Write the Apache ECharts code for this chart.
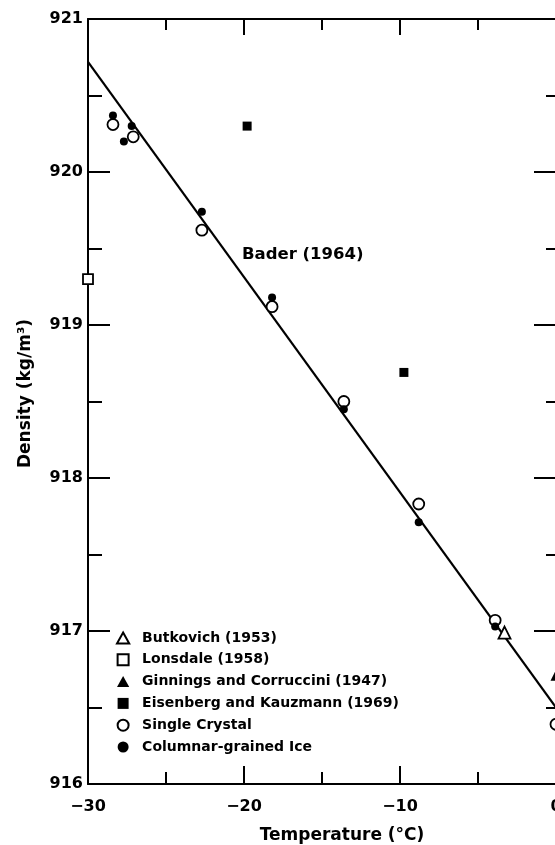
<!DOCTYPE html>
<html><head><meta charset="utf-8">
<script src="https://cdn.jsdelivr.net/npm/echarts@6/dist/echarts.min.js"></script>
<style>html,body{margin:0;padding:0;background:#fff;overflow:hidden}#c{width:555px;height:845px}</style>
</head><body><div id="c"></div>
<script>
// Data (Temperature °C, Density kg/m³)
const butkovich = [[-3.3, 916.99]];
const lonsdale = [[-30, 919.30]];
const ginnings = [[0, 916.71]];
const eisenberg = [[-19.8, 920.30], [-9.75, 918.69]];
const singleCrystal = [[-28.4, 920.31], [-27.1, 920.23], [-22.7, 919.62], [-18.2, 919.12], [-13.6, 918.50], [-8.8, 917.83], [-3.9, 917.07], [0, 916.39]];
const columnar = [[-28.4, 920.37], [-27.2, 920.30], [-27.7, 920.20], [-22.7, 919.74], [-18.2, 919.18], [-13.6, 918.45], [-8.8, 917.71], [-3.9, 917.03]];
const bader = [[-30, 920.72], [0, 916.5]];
const baderLabelAt = [-20.13, 919.46];
const legendNames = ['Butkovich (1953)', 'Lonsdale (1958)', 'Ginnings and Corruccini (1947)', 'Eisenberg and Kauzmann (1969)', 'Single Crystal', 'Columnar-grained Ice'];

const FONT = 'DejaVu Sans';
const TRI = 'path://M5,0L10,9L0,9Z';
const SQ_OPEN = 'path://M0,0L10,0L10,10L0,10Z';
const SQ_FILL = 'path://M0,0L10,0L10,10L0,10Z';
const chart = echarts.init(document.getElementById('c'), null, {renderer: 'canvas'});

function xAx(pos, show, major, minor) {
  return {
    type: 'value', min: -30, max: 0, interval: 10, position: pos,
    axisLine: {show: true, onZero: false, lineStyle: {color: '#000', width: 2}},
    axisTick: {show: true, inside: true, length: major, lineStyle: {color: '#000', width: 2}},
    minorTick: {show: true, splitNumber: 2, length: minor, lineStyle: {color: '#000', width: 2}},
    splitLine: {show: false},
    axisLabel: {show: show, color: '#000', fontFamily: FONT, fontWeight: 'bold', fontSize: 16, margin: 15,
      formatter: v => (v < 0 ? '\u2212' + Math.abs(v) : String(v))}
  };
}
function yAx(pos, show, major, minor) {
  return {
    type: 'value', min: 916, max: 921, interval: 1, position: pos,
    axisLine: {show: true, onZero: false, lineStyle: {color: '#000', width: 2}},
    axisTick: {show: true, inside: true, length: major, lineStyle: {color: '#000', width: 2}},
    minorTick: {show: true, splitNumber: 2, length: minor, lineStyle: {color: '#000', width: 2}},
    splitLine: {show: false},
    axisLabel: {show: show, color: '#000', fontFamily: FONT, fontWeight: 'bold', fontSize: 16, margin: 5}
  };
}

const xBottom = Object.assign(xAx('bottom', true, 18, 12), {
  name: 'Temperature (°C)', nameLocation: 'middle', nameGap: 43,
  nameTextStyle: {color: '#000', fontFamily: FONT, fontWeight: 'bold', fontSize: 17, padding: [0, 0, 0, 40]}
});
const xTop = xAx('top', false, 16, 11);
const yLeft = Object.assign(yAx('left', true, 22, 14), {
  name: 'Density (kg/m³)', nameLocation: 'middle', nameGap: 54,
  nameTextStyle: {color: '#000', fontFamily: FONT, fontWeight: 'bold', fontSize: 17, padding: [0, 0, 0, 16]}
});
const yRight = yAx('right', false, 22, 10);

function sc(name, data, symbol, size, filled) {
  return {
    type: 'scatter', name: name, data: data, symbol: symbol, symbolSize: size, symbolKeepAspect: true,
    xAxisIndex: 0, yAxisIndex: 0, z: 5, clip: false,
    itemStyle: filled ? {color: '#000', borderColor: '#000', borderWidth: 0, opacity: 1}
                      : {color: '#fff', borderColor: '#000', borderWidth: 1.8, opacity: 1},
    emphasis: {disabled: true}
  };
}

chart.setOption({
  backgroundColor: '#fff',
  animation: false,
  grid: {left: 88, width: 468, top: 19, bottom: 61, containLabel: false, outerBoundsMode: 'none'},
  xAxis: [xBottom, xTop],
  yAxis: [yLeft, yRight],
  legend: {
    data: [
      {name: legendNames[0], icon: TRI},
      {name: legendNames[1], icon: SQ_OPEN},
      {name: legendNames[2], icon: TRI},
      {name: legendNames[3], icon: SQ_FILL},
      {name: legendNames[4], icon: 'circle'},
      {name: legendNames[5], icon: 'circle'}
    ],
    orient: 'vertical', left: 116, top: 631,
    itemWidth: 28, itemHeight: 11, itemGap: 7.8, padding: 0, symbolKeepAspect: true,
    selectedMode: false,
    textStyle: {color: '#000', fontFamily: FONT, fontWeight: 'bold', fontSize: 14}
  },
  series: [
    {
      type: 'line', name: 'Bader (1964)', data: bader, symbol: 'none', z: 3,
      lineStyle: {color: '#000', width: 2.2}, xAxisIndex: 0, yAxisIndex: 0,
      markPoint: {
        symbol: 'circle', symbolSize: 0, silent: true,
        label: {show: true, position: 'right', distance: 0, formatter: 'Bader (1964)',
          color: '#000', fontFamily: FONT, fontWeight: 'bold', fontSize: 16.5},
        data: [{coord: baderLabelAt}]
      }
    },
    sc(legendNames[0], butkovich, 'triangle', 12, false),
    sc(legendNames[1], lonsdale, 'rect', 10, false),
    sc(legendNames[2], ginnings, 'triangle', 11, true),
    sc(legendNames[3], eisenberg, 'rect', 9, true),
    sc(legendNames[4], singleCrystal, 'circle', 11, false),
    sc(legendNames[5], columnar, 'circle', 8, true)
  ]
});
</script>
</body></html>
